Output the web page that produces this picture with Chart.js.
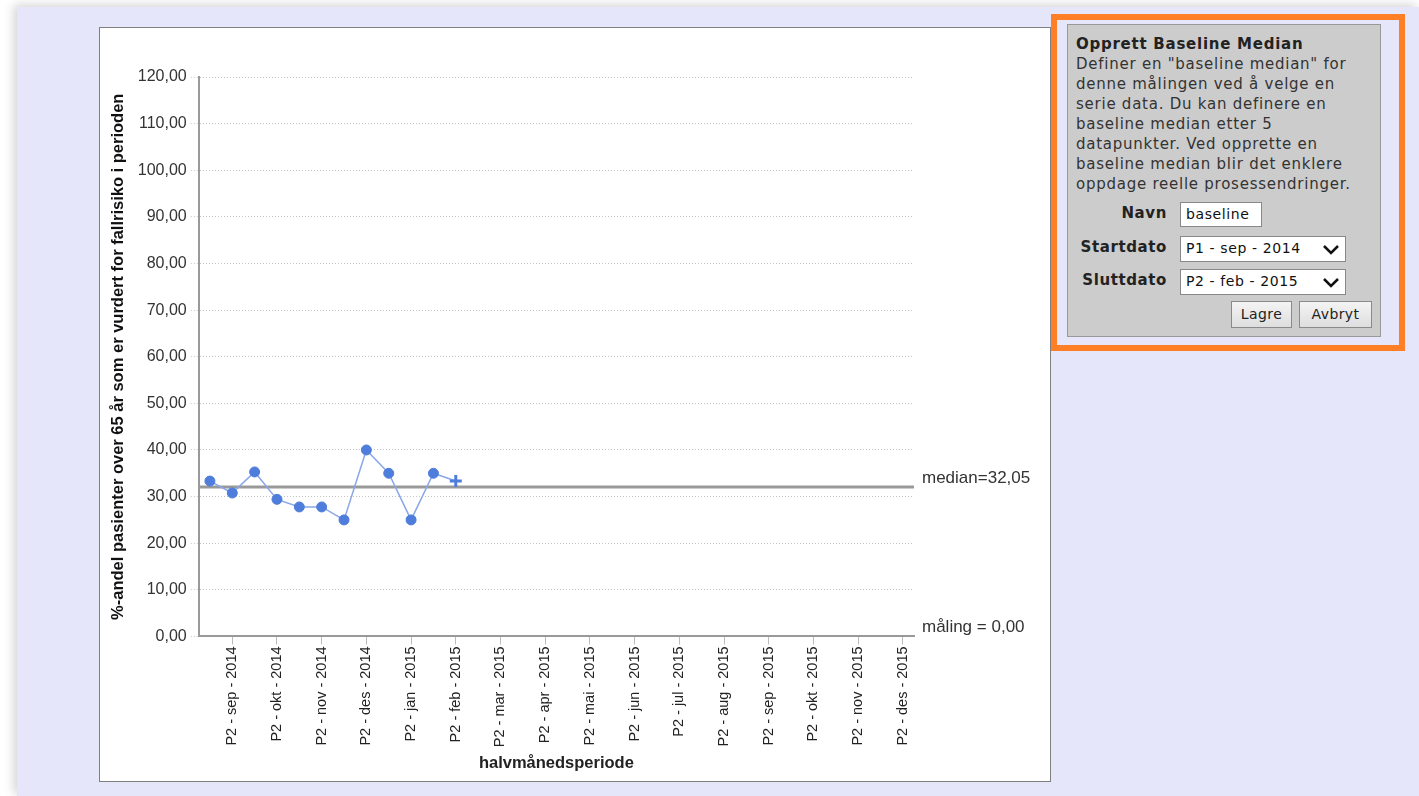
<!DOCTYPE html>
<html>
<head>
<meta charset="utf-8">
<script src="https://cdn.jsdelivr.net/npm/chart.js@4.4.1/dist/chart.umd.min.js"></script>
<style>
body { margin: 0; width: 1419px; height: 796px; background: #fff; overflow: hidden; position: relative; }
#page { position: absolute; left: 17px; top: 7px; width: 1402px; height: 789px; background: #e6e6fa; box-shadow: -3px -2px 10px rgba(0,0,0,0.18); }
#chartBox { position: absolute; left: 99px; top: 27px; width: 950px; height: 753px; background: #fff; border: 1px solid #7f7f7f; }
#panel { position: absolute; left: 1051px; top: 14px; width: 354px; height: 337px; box-sizing: border-box; border: 6px solid #ff7f27; background: #e6e6fa; }
#inner { position: absolute; left: 10px; top: 4px; width: 312px; height: 311px; background: #cccccc; border: 1px solid #999; font-family: "DejaVu Sans", Verdana, sans-serif; font-size: 15px; letter-spacing: 0.75px; color: #333; }
#inner p { margin: 0; position: absolute; left: 8px; top: 9px; width: 290px; line-height: 20px; }
#inner p b { color: #222; }
.lbl { position: absolute; width: 99px; text-align: right; font-weight: bold; color: #222; letter-spacing: 0.6px; }
.field { position: absolute; left: 112px; background: #fff; border: 1px solid #888; box-sizing: border-box; font-size: 14px; letter-spacing: 0.6px; color: #111; padding-left: 5px; line-height: 23px; }
.field svg { position: absolute; right: 5px; top: 7px; }
.btn { position: absolute; top: 276px; height: 27px; box-sizing: border-box; border: 1px solid #8a8a8a; background: linear-gradient(#f4f4f4, #dedede); font-size: 14px; letter-spacing: 0.4px; color: #222; text-align: center; line-height: 24px; }
</style>
</head>
<body>
<div id="page"></div>
<div id="chartBox"><canvas id="spcChart" width="950" height="753"></canvas></div>
<div id="panel">
  <div id="inner">
    <p><b>Opprett Baseline Median</b><br>Definer en "baseline median" for denne målingen ved å velge en serie data. Du kan definere en baseline median etter 5 datapunkter. Ved opprette en baseline median blir det enklere oppdage reelle prosessendringer.</p>
    <div class="lbl" style="top:179px">Navn</div>
    <div class="field" style="top:177px;width:82px;height:25px">baseline</div>
    <div class="lbl" style="top:213px">Startdato</div>
    <div class="field" style="top:211px;width:166px;height:26px">P1 - sep - 2014<svg width="18" height="12"><path d="M2 2 L9 9 L16 2" fill="none" stroke="#111" stroke-width="2.5"/></svg></div>
    <div class="lbl" style="top:246px">Sluttdato</div>
    <div class="field" style="top:244px;width:166px;height:26px">P2 - feb - 2015<svg width="18" height="12"><path d="M2 2 L9 9 L16 2" fill="none" stroke="#111" stroke-width="2.5"/></svg></div>
    <div class="btn" style="left:163px;width:61px">Lagre</div>
    <div class="btn" style="left:231px;width:73px">Avbryt</div>
  </div>
</div>
<script>
// data
const periods = [
    'P1 - sep - 2014', 'P2 - sep - 2014', 'P1 - okt - 2014', 'P2 - okt - 2014',
    'P1 - nov - 2014', 'P2 - nov - 2014', 'P1 - des - 2014', 'P2 - des - 2014',
    'P1 - jan - 2015', 'P2 - jan - 2015', 'P1 - feb - 2015', 'P2 - feb - 2015',
    'P1 - mar - 2015', 'P2 - mar - 2015', 'P1 - apr - 2015', 'P2 - apr - 2015',
    'P1 - mai - 2015', 'P2 - mai - 2015', 'P1 - jun - 2015', 'P2 - jun - 2015',
    'P1 - jul - 2015', 'P2 - jul - 2015', 'P1 - aug - 2015', 'P2 - aug - 2015',
    'P1 - sep - 2015', 'P2 - sep - 2015', 'P1 - okt - 2015', 'P2 - okt - 2015',
    'P1 - nov - 2015', 'P2 - nov - 2015', 'P1 - des - 2015', 'P2 - des - 2015'
]
const measurements = [33.33, 30.77, 35.29, 29.41, 27.78, 27.78, 25.0, 40.0, 35.0, 25.0, 35.0, 33.33]
const median = 32.05
const target = 0
const yTicks = [0, 10, 20, 30, 40, 50, 60, 70, 80, 90, 100, 110, 120]

const fmt = (v) => v.toFixed(2).replace('.', ',')
const lastIndex = measurements.length - 1
const fontFamily = '"Liberation Sans", Arial, sans-serif'

// plugins
const medianPlugin = {
    id: 'medianPlugin',
    beforeDatasetsDraw(chart) {
        const { ctx, chartArea, scales } = chart
        const y = scales.y.getPixelForValue(median)
        ctx.save()
        ctx.strokeStyle = '#999'
        ctx.lineWidth = 3
        ctx.beginPath()
        ctx.moveTo(chartArea.left, y)
        ctx.lineTo(chartArea.right, y)
        ctx.stroke()
        ctx.restore()
    },
    afterDraw(chart) {
        const { ctx, chartArea, scales } = chart
        ctx.save()
        ctx.font = '17px ' + fontFamily
        ctx.fillStyle = '#333'
        ctx.textBaseline = 'middle'
        ctx.fillText('median=' + fmt(median), chartArea.right + 8, scales.y.getPixelForValue(median) - 9)
        ctx.fillText('måling = ' + fmt(target), chartArea.right + 8, scales.y.getPixelForValue(target) - 9)
        ctx.restore()
    }
}

const config = {
    type: 'line',
    data: {
        labels: periods,
        datasets: [{
            data: measurements,
            borderColor: '#89a7e9',
            borderWidth: 1.5,
            backgroundColor: '#4f7ddb',
            pointBackgroundColor: '#4f7ddb',
            pointBorderColor: '#4f7ddb',
            pointStyle: measurements.map((v, i) => i === lastIndex ? 'cross' : 'circle'),
            pointRadius: measurements.map((v, i) => i === lastIndex ? 6 : 5),
            pointBorderWidth: measurements.map((v, i) => i === lastIndex ? 3 : 1),
            tension: 0
        }]
    },
    options: {
        responsive: false,
        animation: false,
        layout: { padding: { left: 9, right: 136, top: 49, bottom: 8 } },
        plugins: { legend: { display: false }, tooltip: { enabled: false } },
        scales: {
            x: {
                offset: true,
                border: { color: '#999', width: 2 },
                grid: {
                    drawOnChartArea: false,
                    tickLength: 8,
                    tickColor: (c) => c.index % 2 === 1 ? '#bbb' : 'rgba(0,0,0,0)'
                },
                ticks: {
                    autoSkip: false,
                    minRotation: 90,
                    maxRotation: 90,
                    padding: 2,
                    color: '#222',
                    font: { family: fontFamily, size: 14.5 },
                    callback: (v, i) => i % 2 === 1 ? periods[i] : ''
                },
                title: {
                    display: true,
                    text: 'halvmånedsperiode',
                    color: '#222',
                    font: { family: fontFamily, size: 16.5, weight: 'bold' },
                    padding: { top: 4, bottom: 0 }
                }
            },
            y: {
                min: 0,
                max: 120,
                afterBuildTicks: (scale) => { scale.ticks = yTicks.map(v => ({ value: v })) },
                border: { color: '#999', width: 2, dash: [1, 2] },
                grid: {
                    color: '#c4c4c4',
                    tickBorderDash: [1, 2],
                    tickLength: 8
                },
                ticks: {
                    padding: 4,
                    color: '#333',
                    font: { family: fontFamily, size: 16 },
                    callback: (v) => fmt(v)
                },
                title: {
                    display: true,
                    text: '%-andel pasienter over 65 år som er vurdert for fallrisiko i perioden',
                    color: '#111',
                    font: { family: fontFamily, size: 16.5, weight: 'bold' },
                    padding: { top: 0, bottom: 5 }
                }
            }
        }
    },
    plugins: [medianPlugin]
}

const spcChart = new Chart(document.getElementById('spcChart'), config)
</script>
</body>
</html>
